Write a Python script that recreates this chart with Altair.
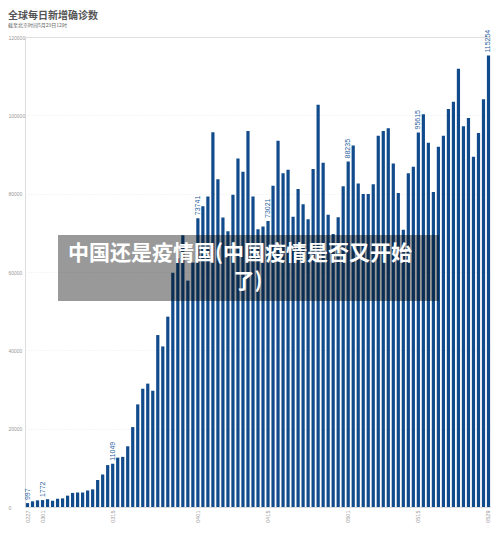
import altair as alt
import pandas as pd

# ---- data ----
DATES = list(pd.date_range("2020-02-27", "2020-05-29").strftime("%m%d"))
CASES = [
    997, 1450, 1700, 1772, 2000, 1600, 2100, 2200, 2900, 3600,
    3700, 3700, 4200, 4500, 6900, 8300, 10700, 11049, 12600, 12800,
    15500, 20400, 26200, 30200, 31500, 29700, 43900, 41000, 48600, 59800,
    63500, 69400, 57800, 62400, 73741, 76800, 79300, 95700, 83700, 73900,
    70400, 79700, 89000, 85600, 96000, 79300, 70900, 71600, 73021, 82000,
    93500, 85200, 86100, 74100, 81200, 77300, 73500, 86300, 102700, 87900,
    74600, 69700, 74000, 81900, 88235, 92300, 82600, 79900, 79900, 82400,
    94800, 96000, 96700, 87700, 80200, 70800, 85200, 86900, 95615, 100300,
    93000, 80400, 92000, 94800, 101600, 103500, 111900, 97200, 99300, 89400,
    95500, 104100, 115254,
]
LABELED_DATES = ["0227", "0301", "0315", "0401", "0415", "0501", "0515", "0529"]
TICK_LABELS = ["0227", "0301", "0315", "0401", "0415", "0501", "0515", "0529"]
Y_TICKS = [0, 10000, 20000, 30000, 40000, 50000, 60000, 70000, 80000, 90000,
           100000, 110000, 120000]

TITLE = "全球每日新增确诊数"
SUBTITLE = "截至北京时间5月29日12时"
OVERLAY_LINE1 = "中国还是疫情国(中国疫情是否又开始"
OVERLAY_LINE2 = "了)"

BAR_COLOR = "#114b8c"
CJK = "Noto Sans CJK SC"
NUM = "Liberation Sans"

df = pd.DataFrame({"date": DATES, "cases": CASES})
df["label"] = [str(c) if d in LABELED_DATES else "" for d, c in zip(DATES, CASES)]

x_enc = alt.X(
    "date:O",
    sort=None,
    title=None,
    scale=alt.Scale(paddingInner=0.36, paddingOuter=0.18),
    axis=alt.Axis(
        values=TICK_LABELS,
        labelAngle=270,
        labelFontSize=5.5,
        labelColor="#999999",
        labelFont=NUM,
        labelPadding=3,
        ticks=False,
        domainColor="#dddddd",
        grid=False,
    ),
)
y_enc = alt.Y(
    "cases:Q",
    title=None,
    scale=alt.Scale(domain=[0, 120000], nice=False),
    axis=alt.Axis(
        values=Y_TICKS,
        format="d",
        labelAlign="left",
        labelBaseline="middle",
        labelPadding=17,
        labelFontSize=5,
        labelColor="#999999",
        labelFont=NUM,
        ticks=False,
        domain=False,
        grid=True,
        gridColor="#e4e4e4",
        gridDash=[1, 2],
        gridWidth=0.8,
    ),
)

bars = alt.Chart(df).mark_bar(color=BAR_COLOR).encode(x=x_enc, y=y_enc)

labels = alt.Chart(df).mark_text(
    angle=270, align="left", baseline="middle", dx=3,
    fontSize=7, color="#2b5f9e", font=NUM,
).encode(x=alt.X("date:O", sort=None), y="cases:Q", text="label:N")

one = pd.DataFrame({"k": [0]})
overlay = alt.Chart(one).mark_rect(color="black", opacity=0.4).encode(
    x=alt.value(33), x2=alt.value(414), y=alt.value(198), y2=alt.value(264)
)
ov1 = alt.Chart(one).mark_text(
    color="white", fontSize=21, fontWeight="bold", font=CJK,
    align="center", baseline="middle",
).encode(x=alt.value(215), y=alt.value(217), text=alt.value(OVERLAY_LINE1))
ov2 = alt.Chart(one).mark_text(
    color="white", fontSize=21, fontWeight="bold", font=CJK,
    align="center", baseline="middle",
).encode(x=alt.value(223), y=alt.value(245), text=alt.value(OVERLAY_LINE2))

chart = alt.layer(bars, labels, overlay, ov1, ov2).properties(
    width=466,
    height=470,
    title=alt.Title(
        TITLE,
        subtitle=SUBTITLE,
        anchor="start",
        frame="group",
        dx=-17,
        dy=6,
        offset=8,
        font=CJK,
        fontSize=10,
        fontWeight="bold",
        color="#555555",
        subtitleFont=CJK,
        subtitleFontSize=5,
        subtitleColor="#666666",
        subtitlePadding=2,
    ),
    autosize=alt.AutoSizeParams(type="none"),
    padding={"left": 17, "top": 29, "right": 0, "bottom": 21},
).configure_view(stroke=None).configure(background="white")

chart.save("out.html", embed_options={"renderer": "svg", "actions": False})
